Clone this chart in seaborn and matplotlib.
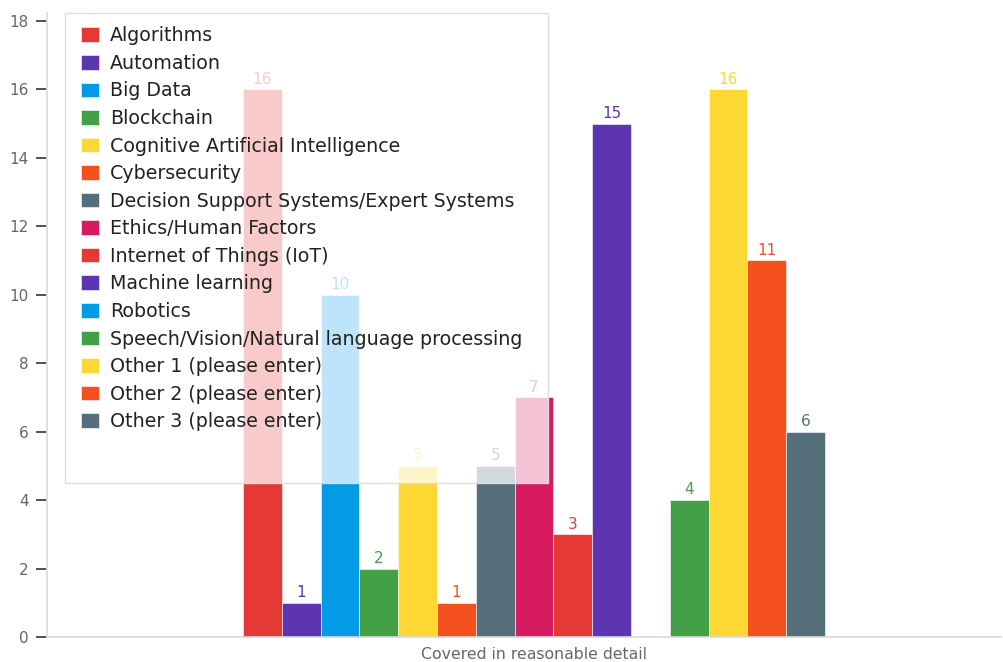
import matplotlib
matplotlib.use("Agg")
import matplotlib.pyplot as plt
from matplotlib.patches import Rectangle
import seaborn as sns
import pandas as pd

# Survey responses: how many courses cover each topic in reasonable detail
category = "Covered in reasonable detail"
topics = [
    "Algorithms",
    "Automation",
    "Big Data",
    "Blockchain",
    "Cognitive Artificial Intelligence",
    "Cybersecurity",
    "Decision Support Systems/Expert Systems",
    "Ethics/Human Factors",
    "Internet of Things (IoT)",
    "Machine learning",
    "Robotics",
    "Speech/Vision/Natural language processing",
    "Other 1 (please enter)",
    "Other 2 (please enter)",
    "Other 3 (please enter)",
]
counts = [16, 1, 10, 2, 5, 1, 5, 7, 3, 15, 0, 4, 16, 11, 6]
colors = [
    "#E53935", "#5E35B1", "#039BE5", "#43A047", "#FDD835",
    "#F4511E", "#546E7A", "#D81B60", "#E53935", "#5E35B1",
    "#039BE5", "#43A047", "#FDD835", "#F4511E", "#546E7A",
]
y_ticks = [0, 2, 4, 6, 8, 10, 12, 14, 16, 18]

df = pd.DataFrame({"category": category, "topic": topics, "count": counts})
palette = dict(zip(topics, colors))

sns.set_theme(style="white")
plt.rcParams["font.family"] = ["DejaVu Sans"]

fig = plt.figure(figsize=(10.04, 6.62), dpi=100)
ax = fig.add_axes([47 / 1004, 1 - 637 / 662, 954 / 1004, 624 / 662])

sns.barplot(
    data=df, x="category", y="count", hue="topic", hue_order=topics,
    palette=palette, dodge=True, width=0.8, saturation=1,
    edgecolor="white", linewidth=0.4, legend=True, ax=ax,
)

# value labels above each non-empty bar, in the bar's colour
for container, color in zip(ax.containers, colors):
    labels = [f"{int(b.get_height())}" if b.get_height() > 0 else "" for b in container]
    ax.bar_label(container, labels=labels, padding=2, color=color, fontsize=11)

ax.set_xlim(-0.6694, 0.6419)
ax.set_ylim(0, 18.23)
ax.set_yticks(y_ticks)
ax.set_xlabel("")
ax.set_ylabel("")

for side in ("top", "right"):
    ax.spines[side].set_visible(False)
for side in ("left", "bottom"):
    ax.spines[side].set_color("#d9d9d9")
    ax.spines[side].set_linewidth(1.2)

ax.tick_params(axis="y", which="both", left=True, length=8, width=1.2,
               color="#333333", labelcolor="#666666", labelsize=11, pad=5)
ax.tick_params(axis="x", bottom=False, labelcolor="#666666", labelsize=11.3, pad=1)

# translucent panel behind the legend
panel_xy, panel_w, panel_h = (0.0189, 0.2468), 0.506, 0.7532
panel = Rectangle(panel_xy, panel_w, panel_h, transform=ax.transAxes,
                  facecolor="white", alpha=0.74, edgecolor="none",
                  zorder=4, clip_on=False)
ax.add_patch(panel)
border = Rectangle(panel_xy, panel_w, panel_h, transform=ax.transAxes,
                   facecolor="none", edgecolor="#dddddd", linewidth=1,
                   zorder=4.5, clip_on=False)
ax.add_patch(border)

handles, labels = ax.get_legend_handles_labels()
leg = ax.legend(
    handles, labels, loc="upper left", bbox_to_anchor=(0.0215, 1.0),
    frameon=False, fontsize=13.7, handlelength=0.95, handleheight=0.8,
    handletextpad=0.6, labelspacing=0.45, borderpad=0.7, borderaxespad=0,
    labelcolor="#222222",
)
leg.set_zorder(6)

fig.savefig("out.png", dpi=100)
